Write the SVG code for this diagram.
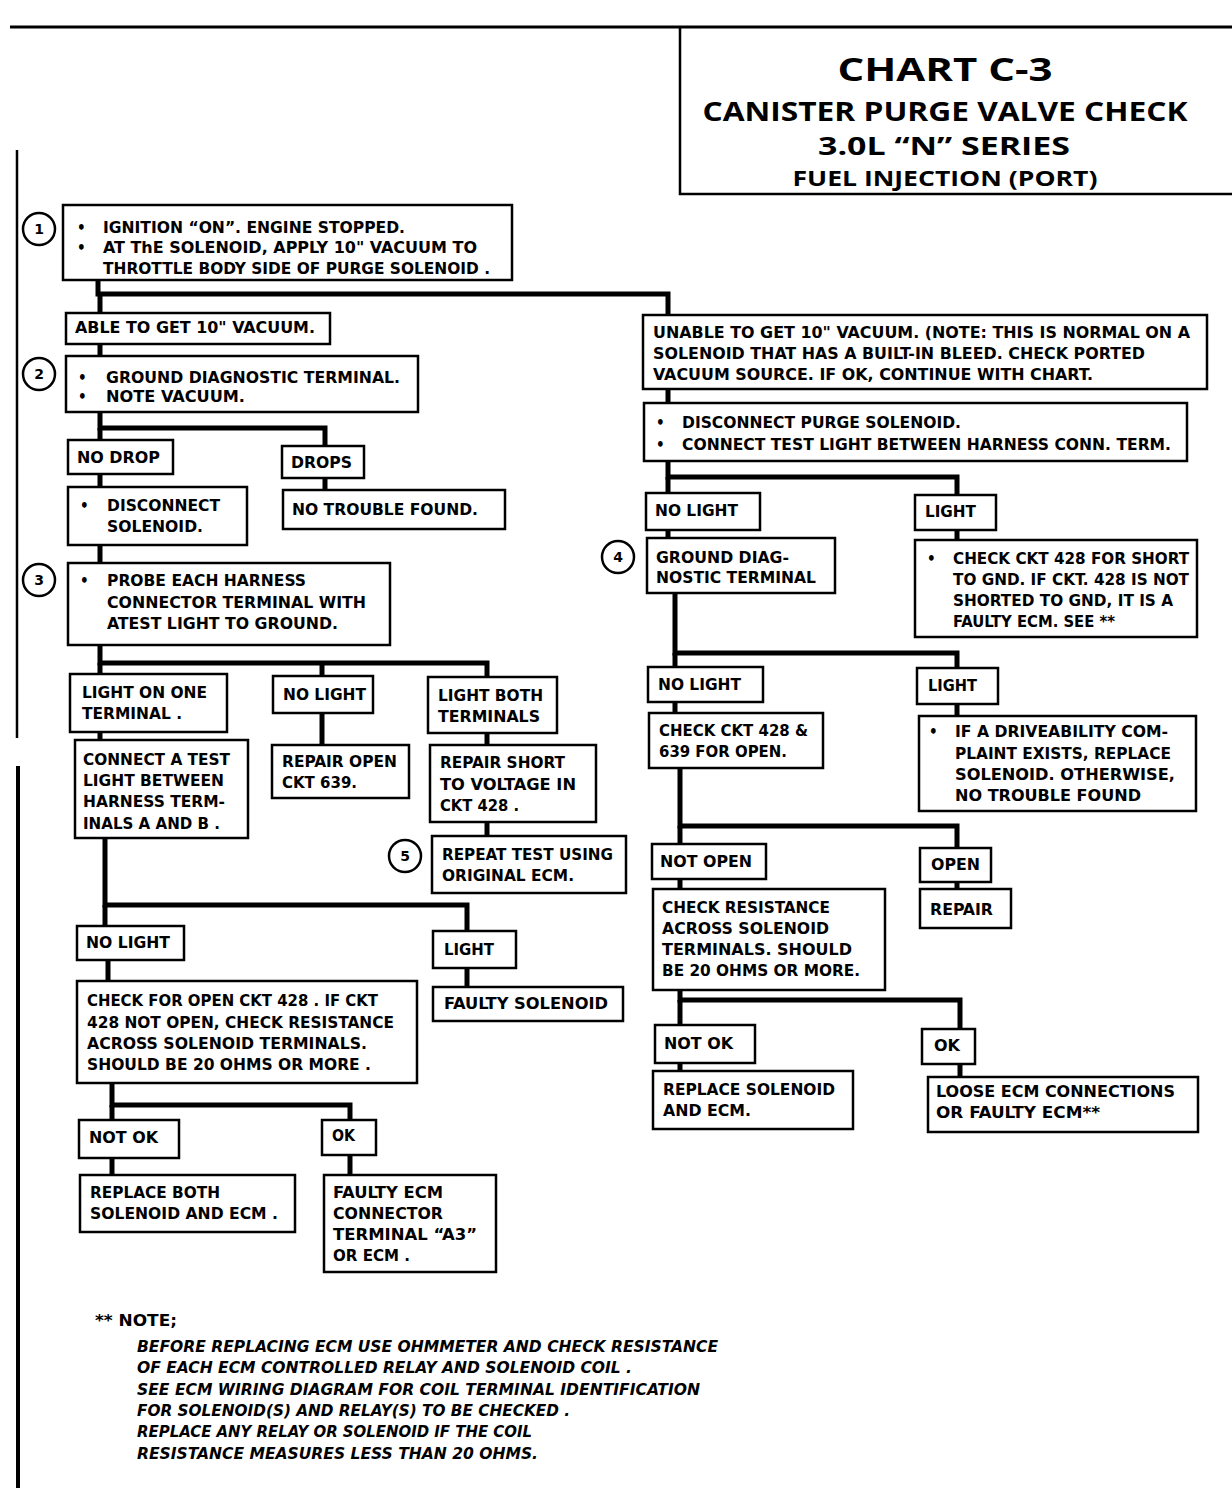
<svg xmlns="http://www.w3.org/2000/svg" width="1232" height="1488" viewBox="0 0 1232 1488">
<style>
.box{fill:#fff;stroke:#000;stroke-width:2.5}
.t{font-family:"DejaVu Sans Condensed","Liberation Sans",sans-serif;font-weight:bold;font-size:15px;fill:#000}
.n{font-family:"DejaVu Sans Condensed","Liberation Sans",sans-serif;font-weight:bold;font-style:italic;font-size:15px;fill:#000}
.ti{font-family:"Open Sans","DejaVu Sans Condensed",sans-serif;font-weight:bold;fill:#000;text-anchor:middle}
.c{fill:none;stroke:#000;stroke-width:5}
.circ{fill:#fff;stroke:#000;stroke-width:2.5}
.cn{font-family:"DejaVu Sans","Liberation Sans",sans-serif;font-weight:bold;font-size:14px;text-anchor:middle}
.frame{fill:none;stroke:#000}
</style>
<rect width="1232" height="1488" fill="#fff"/>
<g id="frame">
<line class="frame" x1="10" y1="27" x2="1232" y2="27" stroke-width="3"/>
<line class="frame" x1="17" y1="150" x2="17" y2="738" stroke-width="2.5"/>
<line class="frame" x1="18" y1="766" x2="18" y2="1488" stroke-width="4"/>
</g>
<g id="title">
<polyline class="frame" points="680,27 680,194 1232,194" stroke-width="2.5"/>
<text class="ti" x="945" y="81" font-size="33" textLength="215" lengthAdjust="spacingAndGlyphs">CHART C-3</text>
<text class="ti" x="945" y="121" font-size="27" textLength="485" lengthAdjust="spacingAndGlyphs">CANISTER PURGE VALVE CHECK</text>
<text class="ti" x="944" y="155" font-size="25" textLength="252" lengthAdjust="spacingAndGlyphs">3.0L  “N”  SERIES</text>
<text class="ti" x="945" y="186" font-size="21" textLength="305" lengthAdjust="spacingAndGlyphs">FUEL INJECTION (PORT)</text>
</g>
<g id="connectors">
<polyline class="c" points="98,280 98,294 668,294 668,315"/>
<line class="c" x1="100" y1="294" x2="100" y2="313"/>
<line class="c" x1="100" y1="344" x2="100" y2="356"/>
<polyline class="c" points="100,412 100,428 325,428 325,446"/>
<line class="c" x1="100" y1="428" x2="100" y2="440"/>
<line class="c" x1="100" y1="474" x2="100" y2="487"/>
<line class="c" x1="325" y1="478" x2="325" y2="490"/>
<line class="c" x1="100" y1="545" x2="100" y2="563"/>
<polyline class="c" points="100,645 100,663 487,663 487,677"/>
<line class="c" x1="100" y1="663" x2="100" y2="674"/>
<line class="c" x1="322" y1="663" x2="322" y2="676"/>
<line class="c" x1="100" y1="732" x2="100" y2="740"/>
<line class="c" x1="322" y1="713" x2="322" y2="745"/>
<line class="c" x1="487" y1="733" x2="487" y2="745"/>
<line class="c" x1="487" y1="822" x2="487" y2="836"/>
<polyline class="c" points="105,838 105,905 467,905 467,931"/>
<line class="c" x1="105" y1="905" x2="105" y2="926"/>
<line class="c" x1="108" y1="960" x2="108" y2="981"/>
<line class="c" x1="467" y1="968" x2="467" y2="987"/>
<polyline class="c" points="112,1083 112,1105 350,1105 350,1120"/>
<line class="c" x1="112" y1="1105" x2="112" y2="1120"/>
<line class="c" x1="112" y1="1158" x2="112" y2="1175"/>
<line class="c" x1="350" y1="1155" x2="350" y2="1175"/>
<line class="c" x1="668" y1="389" x2="668" y2="403"/>
<polyline class="c" points="668,461 668,477 957,477 957,495"/>
<line class="c" x1="668" y1="477" x2="668" y2="493"/>
<line class="c" x1="668" y1="530" x2="668" y2="538"/>
<line class="c" x1="957" y1="530" x2="957" y2="540"/>
<polyline class="c" points="675,593 675,653 957,653 957,668"/>
<line class="c" x1="675" y1="653" x2="675" y2="667"/>
<line class="c" x1="675" y1="702" x2="675" y2="713"/>
<line class="c" x1="957" y1="704" x2="957" y2="716"/>
<polyline class="c" points="680,768 680,826 957,826 957,848"/>
<line class="c" x1="680" y1="826" x2="680" y2="844"/>
<line class="c" x1="680" y1="879" x2="680" y2="889"/>
<line class="c" x1="957" y1="882" x2="957" y2="889"/>
<polyline class="c" points="680,990 680,1000 960,1000 960,1029"/>
<line class="c" x1="680" y1="1000" x2="680" y2="1025"/>
<line class="c" x1="680" y1="1063" x2="680" y2="1071"/>
<line class="c" x1="960" y1="1064" x2="960" y2="1077"/>
</g>
<g id="n1">
<rect class="box" x="63" y="205" width="449" height="75"/>
<circle class="circ" cx="39" cy="229" r="16"/><text class="cn" x="39" y="234">1</text>
<text class="t" x="77" y="233">•</text><text class="t" x="103" y="233" textLength="302" lengthAdjust="spacingAndGlyphs">IGNITION “ON”.  ENGINE STOPPED.</text>
<text class="t" x="77" y="253">•</text><text class="t" x="103" y="253" textLength="374" lengthAdjust="spacingAndGlyphs">AT ThE SOLENOID, APPLY 10" VACUUM TO</text>
<text class="t" x="103" y="274" textLength="387" lengthAdjust="spacingAndGlyphs">THROTTLE BODY SIDE OF PURGE SOLENOID .</text>
</g>
<g id="n_able">
<rect class="box" x="66" y="313" width="264" height="31"/>
<text class="t" x="75" y="333" textLength="240" lengthAdjust="spacingAndGlyphs">ABLE TO GET 10" VACUUM.</text>
</g>
<g id="n2">
<rect class="box" x="66" y="356" width="352" height="56"/>
<circle class="circ" cx="39" cy="374" r="16"/><text class="cn" x="39" y="379">2</text>
<text class="t" x="78" y="383">•</text><text class="t" x="106" y="383" textLength="294" lengthAdjust="spacingAndGlyphs">GROUND DIAGNOSTIC TERMINAL.</text>
<text class="t" x="78" y="402">•</text><text class="t" x="106" y="402" textLength="139" lengthAdjust="spacingAndGlyphs">NOTE VACUUM.</text>
</g>
<g id="n_nodrop">
<rect class="box" x="68" y="440" width="105" height="34"/>
<text class="t" x="77" y="463" textLength="83" lengthAdjust="spacingAndGlyphs">NO DROP</text>
</g>
<g id="n_drops">
<rect class="box" x="282" y="446" width="82" height="32"/>
<text class="t" x="291" y="468" textLength="61" lengthAdjust="spacingAndGlyphs">DROPS</text>
</g>
<g id="n_ntf">
<rect class="box" x="283" y="490" width="222" height="39"/>
<text class="t" x="292" y="515" textLength="186" lengthAdjust="spacingAndGlyphs">NO TROUBLE FOUND.</text>
</g>
<g id="n_disc">
<rect class="box" x="68" y="487" width="179" height="58"/>
<text class="t" x="80" y="511">•</text><text class="t" x="107" y="511" textLength="113" lengthAdjust="spacingAndGlyphs">DISCONNECT</text>
<text class="t" x="107" y="532" textLength="96" lengthAdjust="spacingAndGlyphs">SOLENOID.</text>
</g>
<g id="n3">
<rect class="box" x="68" y="563" width="322" height="82"/>
<circle class="circ" cx="39" cy="580" r="16"/><text class="cn" x="39" y="585">3</text>
<text class="t" x="80" y="586">•</text><text class="t" x="107" y="586" textLength="199" lengthAdjust="spacingAndGlyphs">PROBE EACH HARNESS</text>
<text class="t" x="107" y="608" textLength="259" lengthAdjust="spacingAndGlyphs">CONNECTOR TERMINAL WITH</text>
<text class="t" x="107" y="629" textLength="231" lengthAdjust="spacingAndGlyphs">ATEST LIGHT TO GROUND.</text>
</g>
<g id="n_lightone">
<rect class="box" x="70" y="674" width="157" height="58"/>
<text class="t" x="82" y="698" textLength="125" lengthAdjust="spacingAndGlyphs">LIGHT ON ONE</text>
<text class="t" x="82" y="719" textLength="100" lengthAdjust="spacingAndGlyphs">TERMINAL .</text>
</g>
<g id="n_nolight3">
<rect class="box" x="273" y="676" width="100" height="37"/>
<text class="t" x="283" y="700" textLength="83" lengthAdjust="spacingAndGlyphs">NO LIGHT</text>
</g>
<g id="n_lightboth">
<rect class="box" x="428" y="677" width="129" height="56"/>
<text class="t" x="438" y="701" textLength="105" lengthAdjust="spacingAndGlyphs">LIGHT BOTH</text>
<text class="t" x="438" y="722" textLength="102" lengthAdjust="spacingAndGlyphs">TERMINALS</text>
</g>
<g id="n_connect">
<rect class="box" x="75" y="740" width="173" height="98"/>
<text class="t" x="83" y="765" textLength="147" lengthAdjust="spacingAndGlyphs">CONNECT A TEST</text>
<text class="t" x="83" y="786" textLength="141" lengthAdjust="spacingAndGlyphs">LIGHT BETWEEN</text>
<text class="t" x="83" y="807" textLength="142" lengthAdjust="spacingAndGlyphs">HARNESS TERM-</text>
<text class="t" x="83" y="829" textLength="137" lengthAdjust="spacingAndGlyphs">INALS A AND B .</text>
</g>
<g id="n_repair639">
<rect class="box" x="272" y="745" width="137" height="53"/>
<text class="t" x="282" y="767" textLength="115" lengthAdjust="spacingAndGlyphs">REPAIR OPEN</text>
<text class="t" x="282" y="788" textLength="75" lengthAdjust="spacingAndGlyphs">CKT 639.</text>
</g>
<g id="n_repairshort">
<rect class="box" x="430" y="745" width="166" height="77"/>
<text class="t" x="440" y="768" textLength="125" lengthAdjust="spacingAndGlyphs">REPAIR SHORT</text>
<text class="t" x="440" y="790" textLength="136" lengthAdjust="spacingAndGlyphs">TO VOLTAGE IN</text>
<text class="t" x="440" y="811" textLength="79" lengthAdjust="spacingAndGlyphs">CKT 428 .</text>
</g>
<g id="n5">
<rect class="box" x="432" y="836" width="194" height="57"/>
<circle class="circ" cx="405" cy="856" r="16"/><text class="cn" x="405" y="861">5</text>
<text class="t" x="442" y="860" textLength="171" lengthAdjust="spacingAndGlyphs">REPEAT TEST USING</text>
<text class="t" x="442" y="881" textLength="132" lengthAdjust="spacingAndGlyphs">ORIGINAL ECM.</text>
</g>
<g id="n_nolight_b">
<rect class="box" x="77" y="926" width="107" height="34"/>
<text class="t" x="86" y="948" textLength="84" lengthAdjust="spacingAndGlyphs">NO LIGHT</text>
</g>
<g id="n_light_b">
<rect class="box" x="433" y="931" width="83" height="37"/>
<text class="t" x="444" y="955" textLength="50" lengthAdjust="spacingAndGlyphs">LIGHT</text>
</g>
<g id="n_faultysol">
<rect class="box" x="433" y="987" width="190" height="34"/>
<text class="t" x="444" y="1009" textLength="164" lengthAdjust="spacingAndGlyphs">FAULTY SOLENOID</text>
</g>
<g id="n_checkopen">
<rect class="box" x="77" y="981" width="340" height="102"/>
<text class="t" x="87" y="1006" textLength="291" lengthAdjust="spacingAndGlyphs">CHECK FOR OPEN CKT 428 . IF CKT</text>
<text class="t" x="87" y="1028" textLength="307" lengthAdjust="spacingAndGlyphs">428 NOT OPEN, CHECK RESISTANCE</text>
<text class="t" x="87" y="1049" textLength="280" lengthAdjust="spacingAndGlyphs">ACROSS SOLENOID TERMINALS.</text>
<text class="t" x="87" y="1070" textLength="284" lengthAdjust="spacingAndGlyphs">SHOULD BE 20 OHMS OR MORE .</text>
</g>
<g id="n_notok_l">
<rect class="box" x="79" y="1120" width="100" height="38"/>
<text class="t" x="89" y="1143" textLength="69" lengthAdjust="spacingAndGlyphs">NOT OK</text>
</g>
<g id="n_ok_l">
<rect class="box" x="322" y="1120" width="54" height="35"/>
<text class="t" x="332" y="1141" textLength="23" lengthAdjust="spacingAndGlyphs">OK</text>
</g>
<g id="n_replaceboth">
<rect class="box" x="80" y="1175" width="215" height="57"/>
<text class="t" x="90" y="1198" textLength="130" lengthAdjust="spacingAndGlyphs">REPLACE BOTH</text>
<text class="t" x="90" y="1219" textLength="188" lengthAdjust="spacingAndGlyphs">SOLENOID AND ECM .</text>
</g>
<g id="n_faultyecm">
<rect class="box" x="324" y="1175" width="172" height="97"/>
<text class="t" x="333" y="1198" textLength="110" lengthAdjust="spacingAndGlyphs">FAULTY ECM</text>
<text class="t" x="333" y="1219" textLength="110" lengthAdjust="spacingAndGlyphs">CONNECTOR</text>
<text class="t" x="333" y="1240" textLength="144" lengthAdjust="spacingAndGlyphs">TERMINAL  “A3”</text>
<text class="t" x="333" y="1261" textLength="77" lengthAdjust="spacingAndGlyphs">OR ECM .</text>
</g>
<g id="n_unable">
<rect class="box" x="643" y="315" width="564" height="74"/>
<text class="t" x="653" y="338" textLength="537" lengthAdjust="spacingAndGlyphs">UNABLE TO GET 10" VACUUM. (NOTE:  THIS IS NORMAL ON A</text>
<text class="t" x="653" y="359" textLength="492" lengthAdjust="spacingAndGlyphs">SOLENOID THAT HAS A BUILT-IN BLEED.  CHECK PORTED</text>
<text class="t" x="653" y="380" textLength="440" lengthAdjust="spacingAndGlyphs">VACUUM SOURCE.  IF OK, CONTINUE WITH CHART.</text>
</g>
<g id="n_discpurge">
<rect class="box" x="644" y="403" width="543" height="58"/>
<text class="t" x="656" y="428">•</text><text class="t" x="682" y="428" textLength="279" lengthAdjust="spacingAndGlyphs">DISCONNECT PURGE SOLENOID.</text>
<text class="t" x="656" y="450">•</text><text class="t" x="682" y="450" textLength="489" lengthAdjust="spacingAndGlyphs">CONNECT TEST LIGHT BETWEEN HARNESS CONN. TERM.</text>
</g>
<g id="n_nolight_r1">
<rect class="box" x="646" y="493" width="114" height="37"/>
<text class="t" x="655" y="516" textLength="83" lengthAdjust="spacingAndGlyphs">NO LIGHT</text>
</g>
<g id="n_light_r1">
<rect class="box" x="915" y="495" width="81" height="35"/>
<text class="t" x="925" y="517" textLength="51" lengthAdjust="spacingAndGlyphs">LIGHT</text>
</g>
<g id="n4">
<rect class="box" x="647" y="538" width="188" height="55"/>
<circle class="circ" cx="618" cy="557" r="16"/><text class="cn" x="618" y="562">4</text>
<text class="t" x="656" y="563" textLength="133" lengthAdjust="spacingAndGlyphs">GROUND DIAG-</text>
<text class="t" x="656" y="583" textLength="160" lengthAdjust="spacingAndGlyphs">NOSTIC TERMINAL</text>
</g>
<g id="n_checkshort">
<rect class="box" x="915" y="540" width="282" height="97"/>
<text class="t" x="927" y="564">•</text><text class="t" x="953" y="564" textLength="236" lengthAdjust="spacingAndGlyphs">CHECK CKT 428 FOR SHORT</text>
<text class="t" x="953" y="585" textLength="236" lengthAdjust="spacingAndGlyphs">TO GND.  IF CKT. 428 IS NOT</text>
<text class="t" x="953" y="606" textLength="220" lengthAdjust="spacingAndGlyphs">SHORTED TO GND, IT IS A</text>
<text class="t" x="953" y="627" textLength="162" lengthAdjust="spacingAndGlyphs">FAULTY ECM.  SEE **</text>
</g>
<g id="n_nolight_r2">
<rect class="box" x="648" y="667" width="115" height="35"/>
<text class="t" x="658" y="690" textLength="83" lengthAdjust="spacingAndGlyphs">NO LIGHT</text>
</g>
<g id="n_light_r2">
<rect class="box" x="917" y="668" width="81" height="36"/>
<text class="t" x="928" y="691" textLength="49" lengthAdjust="spacingAndGlyphs">LIGHT</text>
</g>
<g id="n_check428">
<rect class="box" x="649" y="713" width="174" height="55"/>
<text class="t" x="659" y="736" textLength="149" lengthAdjust="spacingAndGlyphs">CHECK CKT 428 &amp;</text>
<text class="t" x="659" y="757" textLength="128" lengthAdjust="spacingAndGlyphs">639 FOR OPEN.</text>
</g>
<g id="n_drive">
<rect class="box" x="919" y="716" width="277" height="95"/>
<text class="t" x="929" y="737">•</text><text class="t" x="955" y="737" textLength="213" lengthAdjust="spacingAndGlyphs">IF A DRIVEABILITY COM-</text>
<text class="t" x="955" y="759" textLength="216" lengthAdjust="spacingAndGlyphs">PLAINT EXISTS, REPLACE</text>
<text class="t" x="955" y="780" textLength="220" lengthAdjust="spacingAndGlyphs">SOLENOID.  OTHERWISE,</text>
<text class="t" x="955" y="801" textLength="186" lengthAdjust="spacingAndGlyphs">NO TROUBLE FOUND</text>
</g>
<g id="n_notopen">
<rect class="box" x="652" y="844" width="114" height="35"/>
<text class="t" x="660" y="867" textLength="92" lengthAdjust="spacingAndGlyphs">NOT OPEN</text>
</g>
<g id="n_open">
<rect class="box" x="920" y="848" width="71" height="34"/>
<text class="t" x="931" y="870" textLength="49" lengthAdjust="spacingAndGlyphs">OPEN</text>
</g>
<g id="n_repair">
<rect class="box" x="920" y="889" width="91" height="39"/>
<text class="t" x="930" y="915" textLength="63" lengthAdjust="spacingAndGlyphs">REPAIR</text>
</g>
<g id="n_checkres">
<rect class="box" x="653" y="889" width="232" height="101"/>
<text class="t" x="662" y="913" textLength="168" lengthAdjust="spacingAndGlyphs">CHECK RESISTANCE</text>
<text class="t" x="662" y="934" textLength="167" lengthAdjust="spacingAndGlyphs">ACROSS SOLENOID</text>
<text class="t" x="662" y="955" textLength="190" lengthAdjust="spacingAndGlyphs">TERMINALS.  SHOULD</text>
<text class="t" x="662" y="976" textLength="198" lengthAdjust="spacingAndGlyphs">BE 20 OHMS OR MORE.</text>
</g>
<g id="n_notok_r">
<rect class="box" x="655" y="1025" width="100" height="38"/>
<text class="t" x="664" y="1049" textLength="69" lengthAdjust="spacingAndGlyphs">NOT OK</text>
</g>
<g id="n_ok_r">
<rect class="box" x="922" y="1029" width="53" height="35"/>
<text class="t" x="934" y="1051" textLength="26" lengthAdjust="spacingAndGlyphs">OK</text>
</g>
<g id="n_replacesol">
<rect class="box" x="653" y="1071" width="200" height="58"/>
<text class="t" x="663" y="1095" textLength="172" lengthAdjust="spacingAndGlyphs">REPLACE SOLENOID</text>
<text class="t" x="663" y="1116" textLength="88" lengthAdjust="spacingAndGlyphs">AND ECM.</text>
</g>
<g id="n_loose">
<rect class="box" x="928" y="1077" width="270" height="55"/>
<text class="t" x="936" y="1097" textLength="239" lengthAdjust="spacingAndGlyphs">LOOSE ECM CONNECTIONS</text>
<text class="t" x="936" y="1118" textLength="164" lengthAdjust="spacingAndGlyphs">OR FAULTY ECM**</text>
</g>
<g id="note">
<text class="t" x="95" y="1326" textLength="82" lengthAdjust="spacingAndGlyphs">** NOTE;</text>
<text class="n" x="137" y="1352" textLength="581" lengthAdjust="spacingAndGlyphs">BEFORE REPLACING ECM USE OHMMETER AND CHECK RESISTANCE</text>
<text class="n" x="137" y="1373" textLength="495" lengthAdjust="spacingAndGlyphs">OF EACH ECM CONTROLLED RELAY AND SOLENOID COIL .</text>
<text class="n" x="137" y="1395" textLength="563" lengthAdjust="spacingAndGlyphs">SEE ECM WIRING DIAGRAM FOR COIL TERMINAL IDENTIFICATION</text>
<text class="n" x="137" y="1416" textLength="433" lengthAdjust="spacingAndGlyphs">FOR SOLENOID(S) AND RELAY(S) TO BE CHECKED .</text>
<text class="n" x="137" y="1437" textLength="395" lengthAdjust="spacingAndGlyphs">REPLACE ANY RELAY OR SOLENOID IF THE COIL</text>
<text class="n" x="137" y="1459" textLength="401" lengthAdjust="spacingAndGlyphs">RESISTANCE MEASURES LESS THAN 20 OHMS.</text>
</g>
</svg>
